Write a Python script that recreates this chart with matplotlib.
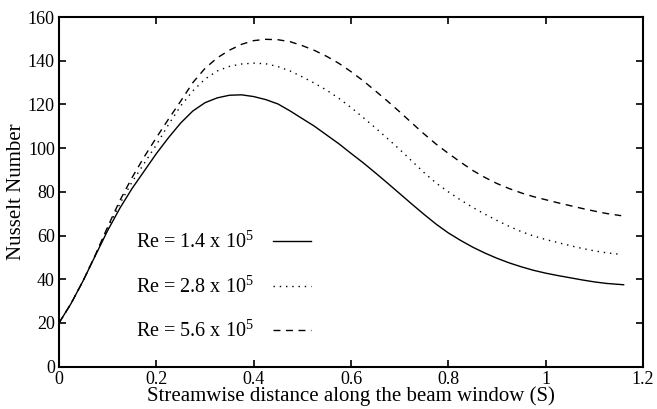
import matplotlib
matplotlib.use('Agg')
import matplotlib.pyplot as plt

plt.rcParams['font.family'] = ['Liberation Serif', 'DejaVu Serif']
plt.rcParams['mathtext.fontset'] = 'custom'
plt.rcParams['mathtext.rm'] = 'Liberation Serif'
plt.rcParams['mathtext.it'] = 'Liberation Serif:italic'

# Nusselt number along the beam window
x_re14 = [0, 0.025, 0.05, 0.075, 0.1, 0.125, 0.15, 0.175, 0.2, 0.225, 0.25, 0.275,
          0.3, 0.325, 0.35, 0.375, 0.4, 0.425, 0.45, 0.475, 0.5, 0.525, 0.55, 0.575,
          0.6, 0.625, 0.65, 0.675, 0.7, 0.725, 0.75, 0.775, 0.8, 0.825, 0.85, 0.875,
          0.9, 0.925, 0.95, 0.975, 1.0, 1.025, 1.05, 1.075, 1.1, 1.125, 1.16]
nu_re14 = [20, 29, 39.5, 51, 62.3, 72.5, 81.5, 89.5, 97.5, 104.8, 111.5, 117,
           120.8, 123, 124.2, 124.4, 123.6, 122.2, 120.2, 117, 113.5, 110, 106, 102,
           97.6, 93.3, 88.7, 84, 79.2, 74.4, 69.7, 65.2, 61.2, 57.8, 54.7, 52,
           49.6, 47.5, 45.7, 44.1, 42.8, 41.7, 40.7, 39.7, 38.8, 38.1, 37.5]

x_re28 = [0, 0.025, 0.05, 0.075, 0.1, 0.125, 0.15, 0.175, 0.2, 0.225, 0.25, 0.275,
          0.3, 0.325, 0.35, 0.375, 0.4, 0.425, 0.45, 0.475, 0.5, 0.525, 0.55, 0.575,
          0.6, 0.625, 0.65, 0.675, 0.7, 0.725, 0.75, 0.775, 0.8, 0.825, 0.85, 0.875,
          0.9, 0.925, 0.95, 0.975, 1.0, 1.025, 1.05, 1.075, 1.1, 1.125, 1.155]
nu_re28 = [20, 29, 39.5, 51.2, 63.3, 74.5, 84.5, 93, 101.5, 110.8, 119.3, 126.2,
           131.6, 135.3, 137.4, 138.5, 138.9, 138.6, 137.3, 135.3, 132.6, 129.7, 126.5, 122.8,
           118.6, 114, 109.3, 104.4, 99.4, 94.1, 88.8, 84, 80, 76.3, 72.9, 69.8,
           66.9, 64.2, 61.8, 59.8, 58.2, 56.8, 55.4, 54.1, 53, 52.1, 51.4]

x_re56 = [0, 0.025, 0.05, 0.075, 0.1, 0.125, 0.15, 0.175, 0.2, 0.225, 0.25, 0.275,
          0.3, 0.325, 0.35, 0.375, 0.4, 0.425, 0.45, 0.475, 0.5, 0.525, 0.55, 0.575,
          0.6, 0.625, 0.65, 0.675, 0.7, 0.725, 0.75, 0.775, 0.8, 0.825, 0.85, 0.875,
          0.9, 0.925, 0.95, 0.975, 1.0, 1.025, 1.05, 1.075, 1.1, 1.125, 1.155]
nu_re56 = [20, 29, 39.5, 51.3, 64, 76, 86.5, 96, 104.8, 113.3, 121.5, 130,
           136.5, 141.3, 144.8, 147.5, 149.2, 149.8, 149.6, 148.7, 146.9, 144.7, 142, 138.8,
           135, 130.8, 126.2, 121.5, 116.6, 111.5, 106.5, 101.8, 97.6, 93.6, 89.8, 86.6,
           83.8, 81.5, 79.5, 77.8, 76.4, 75, 73.7, 72.4, 71.2, 70.1, 69.1]

labels = ['Re = 1.4 x 10$^5$', 'Re = 2.8 x 10$^5$', 'Re = 5.6 x 10$^5$']

fig = plt.figure(figsize=(6.57, 4.09), dpi=100)
ax = fig.add_axes([0.0898, 0.1034, 0.889, 0.855])

l1, = ax.plot(x_re14, nu_re14, color='black', lw=1.0, ls='-')
l2, = ax.plot(x_re28, nu_re28, color='black', lw=1.0, ls=(0, (1, 3.5)))
l3, = ax.plot(x_re56, nu_re56, color='black', lw=1.0, ls=(0, (5, 4)))

ax.set_xlim(0, 1.2)
ax.set_ylim(0, 160)
ax.set_xticks([0, 0.2, 0.4, 0.6, 0.8, 1.0, 1.2])
ax.set_xticklabels(['0', '0.2', '0.4', '0.6', '0.8', '1', '1.2'])
ax.set_yticks(range(0, 161, 20))
ax.tick_params(direction='in', top=True, right=True, length=5, width=1.2,
               labelsize=13, pad=3)
for sp in ax.spines.values():
    sp.set_linewidth(1.5)

ax.set_xlabel('Streamwise distance along the beam window (S)', fontsize=15, labelpad=-1)
ax.set_ylabel('Nusselt Number', fontsize=15, labelpad=1)

ax.legend([l1, l2, l3], labels, loc='center left', bbox_to_anchor=(0.132, 0.228),
          frameon=False, markerfirst=False, fontsize=14.5, borderpad=0,
          borderaxespad=0, labelspacing=1.15, handlelength=1.9, handletextpad=0.95)

fig.savefig('out.png', dpi=100)
